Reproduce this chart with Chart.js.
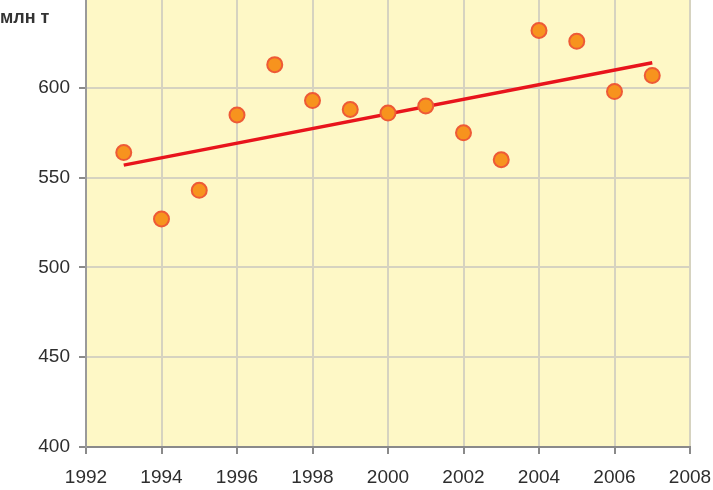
<!DOCTYPE html>
<html>
<head>
<meta charset="utf-8">
<script src="https://cdn.jsdelivr.net/npm/chart.js@4/dist/chart.umd.min.js"></script>
<style>
  html, body { margin: 0; padding: 0; background: #fff; }
  canvas { display: block; }
</style>
</head>
<body>
<canvas id="chart" width="713" height="490"></canvas>
<script>
'use strict'

/* ------------------------------ Data ------------------------------ */

const years = [1993, 1994, 1995, 1996, 1997, 1998, 1999, 2000, 2001, 2002, 2003, 2004, 2005, 2006, 2007]
const values = [564, 527, 543, 585, 613, 593, 588, 586, 590, 575, 560, 632, 626, 598, 607]

// trend line end points
const trendYears = [1993, 2007]
const trendValues = [557, 614]

const yTicks = [400, 450, 500, 550, 600]
const unitLabel = 'млн т'

/* ------------------------------ Plugins ------------------------------ */

const plotBackground = {
  id: 'plotBackground',
  beforeDraw (chart) {
    const { ctx, chartArea } = chart
    ctx.save()
    ctx.fillStyle = '#fef8c6'
    ctx.fillRect(chartArea.left, chartArea.top, chartArea.right - chartArea.left, chartArea.bottom - chartArea.top)
    ctx.restore()
  }
}

const unitText = {
  id: 'unitText',
  afterDraw (chart) {
    const ctx = chart.ctx
    ctx.save()
    ctx.fillStyle = '#333'
    ctx.font = 'bold 18px "Liberation Sans", Arial, sans-serif'
    ctx.textBaseline = 'alphabetic'
    ctx.fillText(unitLabel, 0, 23)
    ctx.restore()
  }
}

/* ------------------------------ Chart ------------------------------ */

const font = { family: '"Liberation Sans", Arial, sans-serif', size: 19 }

new Chart(document.getElementById('chart'), {
  type: 'scatter',
  data: {
    datasets: [
      {
        data: years.map((y, i) => ({ x: y, y: values[i] })),
        pointRadius: 7.5,
        pointHoverRadius: 7.5,
        pointBackgroundColor: '#f7931e',
        pointBorderColor: '#ee5a36',
        pointBorderWidth: 2,
        order: 1
      },
      {
        data: trendYears.map((y, i) => ({ x: y, y: trendValues[i] })),
        showLine: true,
        borderColor: '#e8141c',
        borderWidth: 3.5,
        pointRadius: 0,
        order: 2
      }
    ]
  },
  options: {
    responsive: false,
    animation: false,
    layout: { autoPadding: false, padding: { left: 0, right: 23, top: 0, bottom: 0 } },
    plugins: {
      legend: { display: false },
      tooltip: { enabled: false }
    },
    scales: {
      x: {
        type: 'linear',
        min: 1992,
        max: 2008,
        ticks: {
          stepSize: 2,
          padding: 12,
          color: '#2e2e2e',
          font: font,
          callback: v => String(v)
        },
        grid: { color: '#d6d3c0', lineWidth: 2, tickLength: 7, tickColor: '#8a8a8a' },
        border: { color: '#8a8a8a', width: 2 },
        afterFit (scale) {
          scale.height = 43
          scale.paddingLeft = 0
          scale.paddingRight = 0
        }
      },
      y: {
        min: 400,
        max: 649,
        afterBuildTicks (scale) {
          scale.ticks = yTicks.map(v => ({ value: v }))
        },
        ticks: {
          padding: 9,
          color: '#2e2e2e',
          font: font
        },
        grid: { color: '#d6d3c0', lineWidth: 2, tickLength: 7, tickColor: '#8a8a8a' },
        border: { color: '#9a9a9a', width: 2 },
        afterFit (scale) {
          scale.width = 86
          scale.paddingTop = 0
          scale.paddingBottom = 0
        }
      }
    }
  },
  plugins: [plotBackground, unitText]
})
</script>
</body>
</html>
